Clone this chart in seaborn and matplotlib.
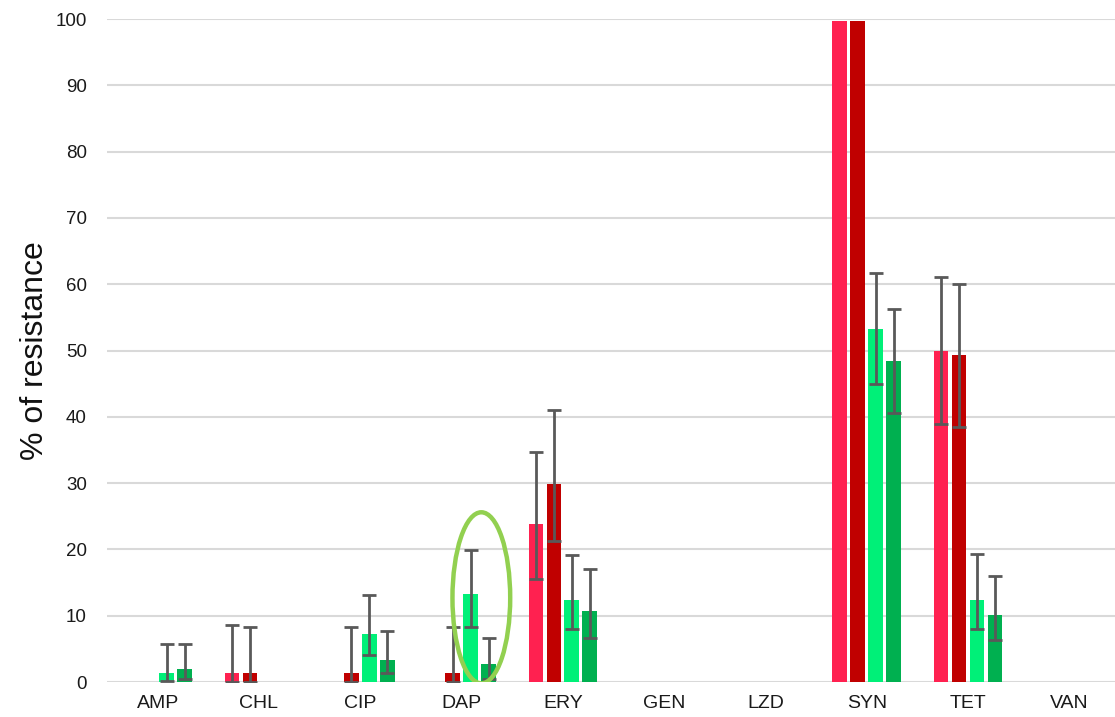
import numpy as np
import pandas as pd
import matplotlib
matplotlib.use("Agg")
import matplotlib.pyplot as plt
import seaborn as sns
from matplotlib.patches import Ellipse

# valeurs
antibiotics = ["AMP", "CHL", "CIP", "DAP", "ERY", "GEN", "LZD", "SYN", "TET", "VAN"]
series = ["S1", "S2", "S3", "S4"]
colors = ["#FF2150", "#C00000", "#00F078", "#00B050"]

s1 = [0, 1.3, 0, 0, 23.9, 0, 0, 99.7, 49.9, 0]
s2 = [0, 1.3, 1.3, 1.3, 29.9, 0, 0, 99.7, 49.3, 0]
s3 = [1.3, 0, 7.2, 13.3, 12.3, 0, 0, 53.2, 12.3, 0]
s4 = [2.0, 0, 3.3, 2.7, 10.7, 0, 0, 48.4, 10.1, 0]

nan = np.nan
s1_low = [nan, 0, nan, nan, 15.6, nan, nan, nan, 38.9, nan]
s1_up = [nan, 8.6, nan, nan, 34.7, nan, nan, nan, 61.1, nan]
s2_low = [nan, 0, 0, 0, 21.2, nan, nan, nan, 38.5, nan]
s2_up = [nan, 8.3, 8.3, 8.3, 41.1, nan, nan, nan, 60.1, nan]
s3_low = [0.2, nan, 4.1, 8.3, 8.0, nan, nan, 45.0, 8.0, nan]
s3_up = [5.7, nan, 13.1, 19.9, 19.2, nan, nan, 61.7, 19.3, nan]
s4_low = [0.5, nan, 1.3, 0.4, 6.7, nan, nan, 40.5, 6.3, nan]
s4_up = [5.7, nan, 7.7, 6.7, 17.0, nan, nan, 56.3, 16.0, nan]

values = [s1, s2, s3, s4]
lows = [s1_low, s2_low, s3_low, s4_low]
ups = [s1_up, s2_up, s3_up, s4_up]

# ✅ tableau long pour seaborn
rows = []
for name, vals in zip(series, values):
    for ab, v in zip(antibiotics, vals):
        rows.append({"antibiotic": ab, "series": name, "value": v})
df = pd.DataFrame(rows)

sns.set_style("white")
plt.rcParams["font.family"] = ["Liberation Sans", "DejaVu Sans"]

fig = plt.figure(figsize=(11.15, 7.17), dpi=100)
ax = fig.add_axes([0.096, 0.0488, 0.9085, 0.9247])

sns.barplot(data=df, x="antibiotic", y="value", hue="series", order=antibiotics,
            hue_order=series, palette=colors, width=0.71, gap=0.18,
            errorbar=None, saturation=1, linewidth=0, legend=False, ax=ax)

# ✅ barres d'erreur asymétriques
for cont, v, lo, up in zip(ax.containers, values, lows, ups):
    xs = np.array([b.get_x() + b.get_width() / 2 for b in cont])
    v = np.array(v)
    lo = np.array(lo)
    up = np.array(up)
    ax.errorbar(xs, v, yerr=[v - lo, up - v], fmt="none", ecolor="#595959",
                elinewidth=2, capsize=4.7, capthick=2, zorder=3)

# ✅ ellipse autour de DAP
ax.add_patch(Ellipse((3.195, 12.7), 0.57, 25.8, fill=False, edgecolor="#92D050",
                     linewidth=3.2, zorder=4))

ax.set_ylim(0, 100)
ax.set_xlim(-0.5, 9.5)
ax.set_yticks(range(0, 101, 10))
ax.yaxis.grid(True, color="#D9D9D9", linewidth=1.5)
ax.set_axisbelow(True)
for sp in ax.spines.values():
    sp.set_visible(False)
ax.tick_params(axis="both", length=0, labelcolor="#1a1a1a")
ax.tick_params(axis="y", labelsize=13.5, pad=14.5)
ax.tick_params(axis="x", labelsize=14, pad=9)
ax.set_xlabel("")
ax.set_ylabel("% of resistance", fontsize=23, labelpad=4, color="#111111")

fig.savefig("out.png", dpi=100)
